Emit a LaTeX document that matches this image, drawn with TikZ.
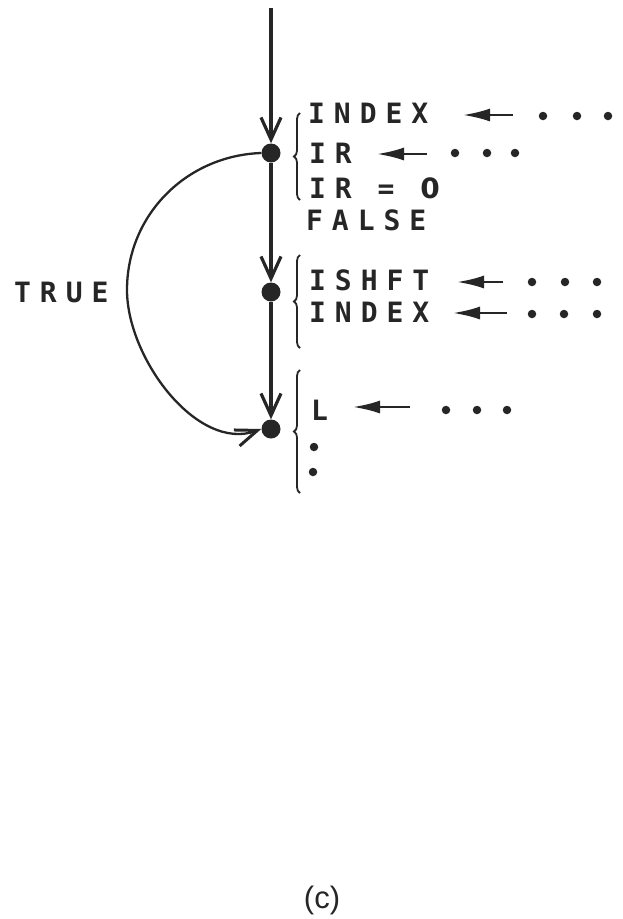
\documentclass[tikz,border=0pt]{standalone}
\usepackage{fontspec}
\setmainfont{Liberation Sans}
\newfontfamily\plotfont[LetterSpace=32]{DejaVu Sans Mono Bold}
\newfontfamily\zerofont{DejaVu Sans Bold}
\usetikzlibrary{arrows.meta,decorations.pathreplacing}
\definecolor{inkc}{HTML}{262626}
\begin{document}
\begin{tikzpicture}[x=1pt,y=-1pt,
  ink/.style={draw=inkc, line width=3.4pt},
  flow/.style={ink, -{Straight Barb[length=22pt,width=20pt,line width=3.2pt]}},
  loopflow/.style={draw=inkc, line width=2.3pt, -{Straight Barb[length=22pt,width=17pt,line width=3pt]}},
  vertex/.style={circle, fill=inkc, minimum size=19pt, inner sep=0pt},
  lbl/.style={font=\plotfont\fontsize{28}{28}\selectfont, text=inkc, anchor=base west, inner sep=0pt},
  dotmark/.style={circle, fill=inkc, minimum size=8.5pt, inner sep=0pt},
  assign/.style={draw=inkc, line width=2.4pt, -{Latex[length=27pt,width=13pt]}},
  bracem/.style={draw=inkc, line width=1.8pt, decorate, decoration={brace, amplitude=6pt}},
  caption/.style={font=\fontsize{31}{31}\selectfont, text=inkc}
]
\useasboundingbox (0,0) rectangle (623,919);

% main flow
\coordinate (top) at (271,8);
\node[vertex] (n1) at (271,153) {};
\node[vertex] (n2) at (271,292) {};
\node[vertex] (n3) at (271,429) {};
\draw[flow] (top) -- (n1);
\draw[flow] (n1) -- (n2);
\draw[flow] (n2) -- (n3);
\draw[loopflow] (n1.west) to[out=182,in=90,looseness=1.0] (127,290)
   to[out=-90,in=200,looseness=0.9] (n3.west);
\node[lbl] (true) at (14,302) {TRUE};

% braces
\draw[bracem] (300,200) -- (300,113);
\draw[bracem] (300,348) -- (300,255);
\draw[bracem] (300,493) -- (300,370);

% block 1
\node[lbl] (t1) at (308,123) {INDEX};
\node[lbl] (t2) at (309,163) {IR};
\node[lbl] (t3) at (309,198) {IR = {\zerofont 0}};
\node[lbl] (t4) at (306,230) {FALSE};
\coordinate (a1s) at (513,115); \coordinate (a1e) at (463,115);
\draw[assign] (a1s) -- (a1e);
\coordinate (a2s) at (427,154); \coordinate (a2e) at (377,154);
\draw[assign] (a2s) -- (a2e);
\foreach \x [count=\i] in {543,577,608} \node[dotmark] (da\i) at (\x,116) {};
\foreach \x [count=\i] in {455,487,515} \node[dotmark] (db\i) at (\x,153) {};

% block 2
\node[lbl] (t5) at (309,290) {ISHFT};
\node[lbl] (t6) at (309,322) {INDEX};
\coordinate (a3s) at (503,282); \coordinate (a3e) at (457,282);
\draw[assign] (a3s) -- (a3e);
\coordinate (a4s) at (507,313); \coordinate (a4e) at (453,313);
\draw[assign] (a4s) -- (a4e);
\foreach \x [count=\i] in {532,565,597} \node[dotmark] (dc\i) at (\x,282) {};
\foreach \x [count=\i] in {532,564,597} \node[dotmark] (dd\i) at (\x,314) {};

% block 3
\node[lbl] (t7) at (311,420) {L};
\coordinate (a5s) at (410,407); \coordinate (a5e) at (353,407);
\draw[assign] (a5s) -- (a5e);
\foreach \x [count=\i] in {446,477,507} \node[dotmark] (de\i) at (\x,410) {};
\node[dotmark] (df1) at (314,447) {};
\node[dotmark] (df2) at (313,472) {};

% caption
\node[caption] (cap) at (322,900) {(c)};
\end{tikzpicture}
\end{document}
